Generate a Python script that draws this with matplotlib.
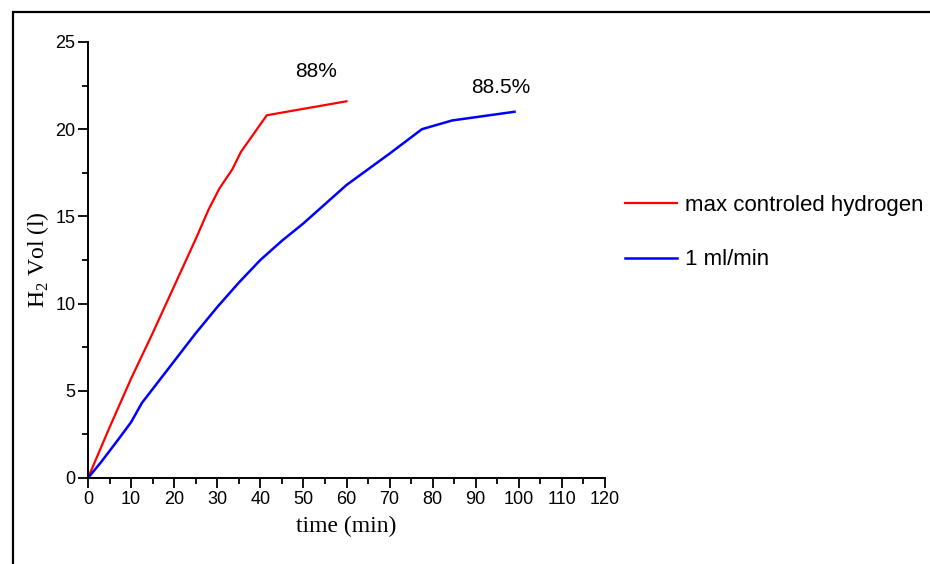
import matplotlib
matplotlib.use("Agg")
from matplotlib import pyplot as plt
from matplotlib.patches import Rectangle
from matplotlib.ticker import MultipleLocator

# values
red_time = [0, 5, 10, 15, 20, 25, 28, 30.5, 33.5, 35.5, 41.5, 60]
red_vol = [0, 2.9, 5.7, 8.3, 11.0, 13.7, 15.4, 16.6, 17.7, 18.7, 20.8, 21.6]

blue_time = [0, 3, 7, 10, 12.5, 15, 20, 25, 30, 35, 40, 45, 50, 55, 60, 65, 70, 77.5, 84.5, 99]
blue_vol = [0, 0.9, 2.2, 3.2, 4.3, 5.1, 6.7, 8.3, 9.8, 11.2, 12.5, 13.6, 14.6, 15.7, 16.8, 17.7, 18.6, 20.0, 20.5, 21.0]

labels = ["max controled hydrogen", "1 ml/min"]
notes = ["88%", "88.5%"]
note_pos = [(52.9, 23.3), (95.8, 22.4)]

plt.rcParams['font.family'] = ['Liberation Sans', 'DejaVu Sans']
plt.rcParams['mathtext.fontset'] = 'custom'
plt.rcParams['mathtext.rm'] = 'Liberation Serif'

fig = plt.figure(figsize=(9.3, 5.64), dpi=100)
ax = fig.add_axes([88 / 930, 86 / 564, 517 / 930, 436 / 564])

ax.plot(red_time, red_vol, color='#ff0000', lw=1.6, label=labels[0])
ax.plot(blue_time, blue_vol, color='#0000ff', lw=1.8, label=labels[1])

for txt, (x, y) in zip(notes, note_pos):
    ax.text(x, y, txt, ha='center', va='center', fontsize=15)

ax.set_xlim(0, 120)
ax.set_ylim(0, 25)
ax.xaxis.set_major_locator(MultipleLocator(10))
ax.xaxis.set_minor_locator(MultipleLocator(5))
ax.yaxis.set_major_locator(MultipleLocator(5))
ax.yaxis.set_minor_locator(MultipleLocator(2.5))
ax.tick_params(which='major', direction='out', length=7, width=1.3, labelsize=13, pad=2)
ax.tick_params(which='minor', direction='out', length=4, width=1.3)

for side in ['top', 'right']:
    ax.spines[side].set_visible(False)
for side in ['left', 'bottom']:
    ax.spines[side].set_linewidth(1.4)

ax.set_xlabel('time (min)', family='Liberation Serif', fontsize=17, labelpad=6)
ax.set_ylabel(r'H$_2$ Vol (l)', family='Liberation Serif', fontsize=17, labelpad=3)

ax.legend(loc='upper left', bbox_to_anchor=(1.0, 0.695), frameon=False,
          fontsize=16, labelspacing=1.5, handlelength=2.35, handletextpad=0.35)

# frame round the figure, cut at right and bottom like the reference
fig.patches.append(Rectangle((13 / 930, -0.1), 1.2, 1.1 - 12 / 564,
                             transform=fig.transFigure, fill=False,
                             edgecolor='black', lw=1.6))

fig.savefig('out.png', dpi=100)
